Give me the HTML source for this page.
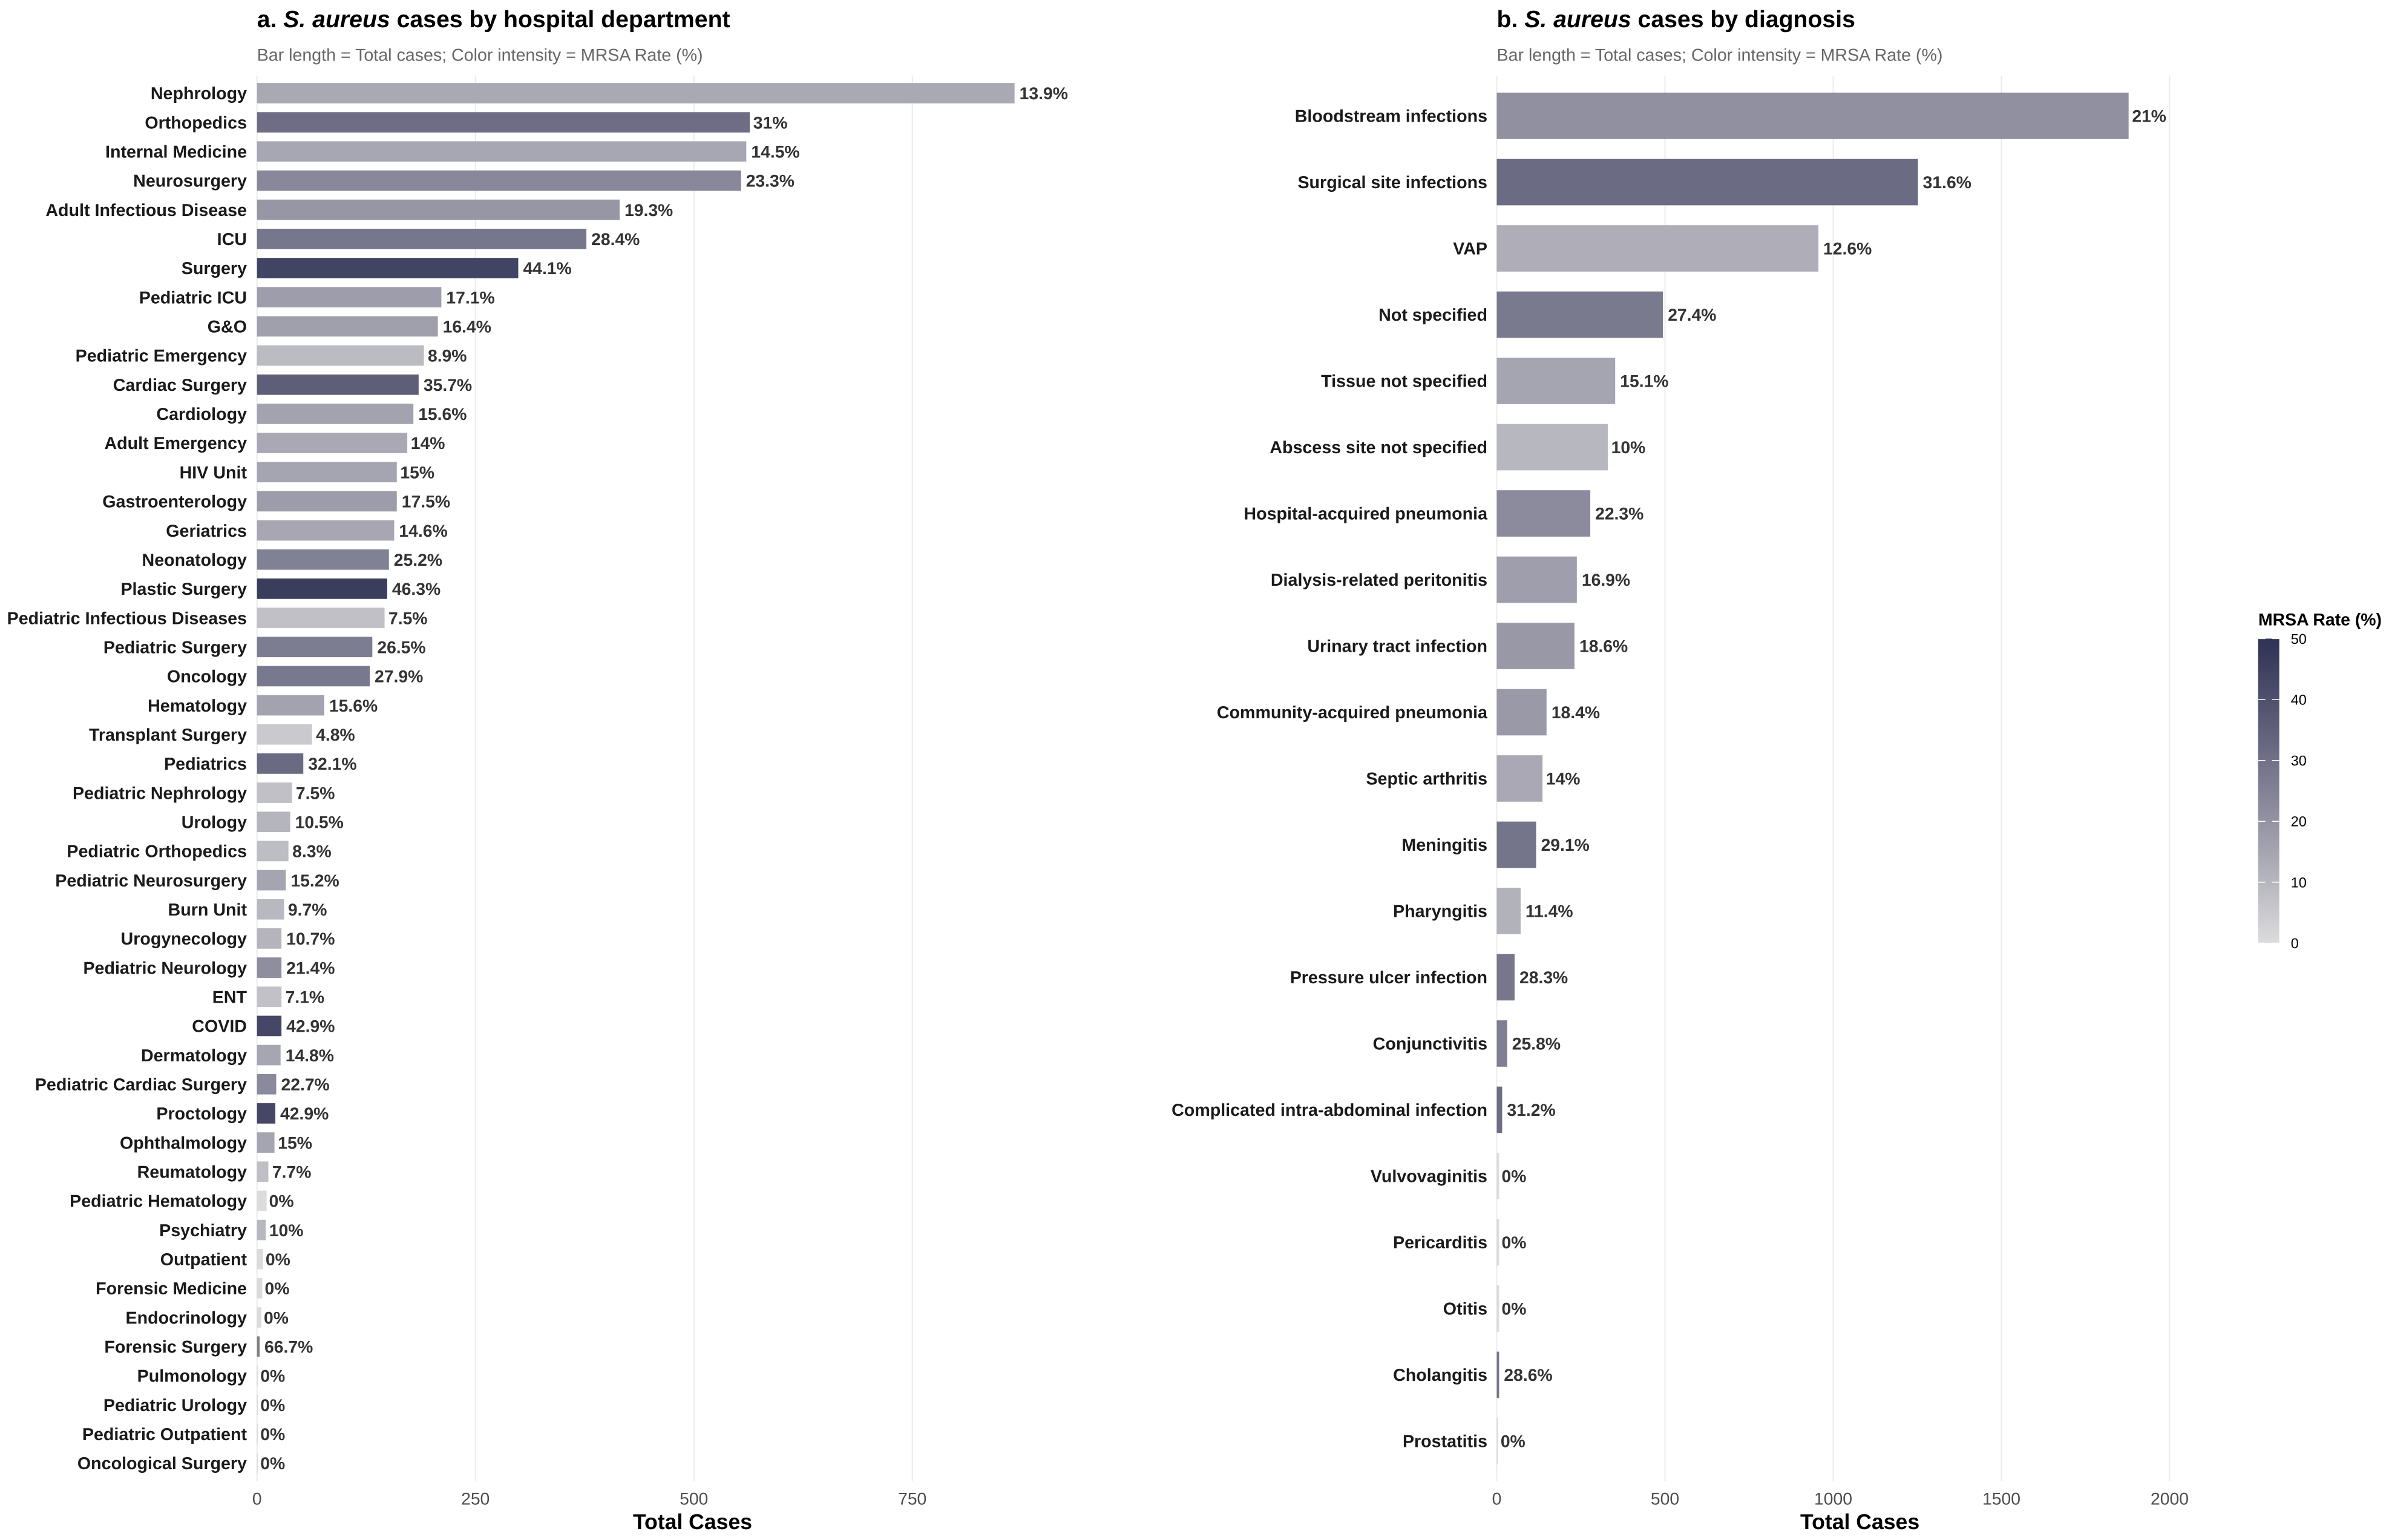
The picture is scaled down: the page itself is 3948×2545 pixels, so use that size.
<!DOCTYPE html>
<html lang="en">
<head>
<meta charset="utf-8">
<title>S. aureus cases by hospital department and diagnosis</title>
<style>
html,body{margin:0;padding:0;background:#fff;}
svg{display:block;}
text{font-family:"Liberation Sans",Arial,sans-serif;text-rendering:geometricPrecision;}
</style>
</head>
<body>
<svg id="chart" xmlns="http://www.w3.org/2000/svg" width="3948" height="2545" viewBox="0 0 3948 2545">
  <defs>
    <linearGradient id="legend-gradient" x1="0" y1="1" x2="0" y2="0"></linearGradient>
  </defs>
  <rect x="0" y="0" width="3948" height="2545" fill="#ffffff"/>
  <text x="424.7" y="45" font-size="39.2" font-weight="700" fill="#000">a. <tspan font-style="italic">S. aureus</tspan> cases by hospital department</text>
  <text x="424.7" y="100.6" font-size="28.6" fill="#666">Bar length = Total cases; Color intensity = MRSA Rate (%)</text>
  <text x="2473.5" y="45" font-size="39.2" font-weight="700" fill="#000">b. <tspan font-style="italic">S. aureus</tspan> cases by diagnosis</text>
  <text x="2473.5" y="100.6" font-size="28.6" fill="#666">Bar length = Total cases; Color intensity = MRSA Rate (%)</text>
  <g id="panel-a"></g>
  <g id="panel-b"></g>
  <text x="1144.5" y="2527" font-size="35.6" font-weight="700" text-anchor="middle" fill="#000">Total Cases</text>
  <text x="3073.6" y="2527" font-size="35.6" font-weight="700" text-anchor="middle" fill="#000">Total Cases</text>
  <g id="legend">
    <text x="3732" y="1033.6" font-size="28.4" font-weight="700" fill="#000">MRSA Rate (%)</text>
    <rect x="3731.7" y="1055.4" width="35" height="503.2" fill="url(#legend-gradient)"/>
  </g>
</svg>
<script>
var deptNames = ["Nephrology","Orthopedics","Internal Medicine","Neurosurgery","Adult Infectious Disease","ICU","Surgery","Pediatric ICU","G&O","Pediatric Emergency","Cardiac Surgery","Cardiology","Adult Emergency","HIV Unit","Gastroenterology","Geriatrics","Neonatology","Plastic Surgery","Pediatric Infectious Diseases","Pediatric Surgery","Oncology","Hematology","Transplant Surgery","Pediatrics","Pediatric Nephrology","Urology","Pediatric Orthopedics","Pediatric Neurosurgery","Burn Unit","Urogynecology","Pediatric Neurology","ENT","COVID","Dermatology","Pediatric Cardiac Surgery","Proctology","Ophthalmology","Reumatology","Pediatric Hematology","Psychiatry","Outpatient","Forensic Medicine","Endocrinology","Forensic Surgery","Pulmonology","Pediatric Urology","Pediatric Outpatient","Oncological Surgery"];
var deptCases = [867,564,560,554,415,377,299,211,207,191,185,179,172,160,160,157,151,149,146,132,129,77,63,53,40,38,36,33,31,28,28,28,28,27,22,21,20,13,11,10,7,6,5,3,1,1,1,1];
var deptRates = [13.9,31,14.5,23.3,19.3,28.4,44.1,17.1,16.4,8.9,35.7,15.6,14,15,17.5,14.6,25.2,46.3,7.5,26.5,27.9,15.6,4.8,32.1,7.5,10.5,8.3,15.2,9.7,10.7,21.4,7.1,42.9,14.8,22.7,42.9,15,7.7,0,10,0,0,0,66.7,0,0,0,0];
var dxNames = ["Bloodstream infections","Surgical site infections","VAP","Not specified","Tissue not specified","Abscess site not specified","Hospital-acquired pneumonia","Dialysis-related peritonitis","Urinary tract infection","Community-acquired pneumonia","Septic arthritis","Meningitis","Pharyngitis","Pressure ulcer infection","Conjunctivitis","Complicated intra-abdominal infection","Vulvovaginitis","Pericarditis","Otitis","Cholangitis","Prostatitis"];
var dxCases = [1878,1252,956,494,352,330,278,238,231,148,136,117,71,53,31,16,7,7,7,7,4];
var dxRates = [21,31.6,12.6,27.4,15.1,10,22.3,16.9,18.6,18.4,14,29.1,11.4,28.3,25.8,31.2,0,0,0,28.6,0];
var deptTicks = [0,250,500,750];
var dxTicks = [0,500,1000,1500,2000];
var legendTicks = [0,10,20,30,40,50];

var SVGNS = "http://www.w3.org/2000/svg";
var PANEL_TOP = 125, PANEL_BOTTOM = 2448;
var LOW = [220,220,220], HIGH = [47,50,84], OOB = "#7f7f7f", RATE_MAX = 50;

function toLab(rgb) {
  var l = rgb.map(function (v) { v /= 255; return v <= 0.04045 ? v / 12.92 : Math.pow((v + 0.055) / 1.055, 2.4); });
  var x = (0.4124 * l[0] + 0.3576 * l[1] + 0.1805 * l[2]) / 0.95047;
  var y = 0.2126 * l[0] + 0.7152 * l[1] + 0.0722 * l[2];
  var z = (0.0193 * l[0] + 0.1192 * l[1] + 0.9505 * l[2]) / 1.08883;
  var f = function (t) { return t > 0.008856 ? Math.cbrt(t) : 7.787 * t + 16 / 116; };
  return [116 * f(y) - 16, 500 * (f(x) - f(y)), 200 * (f(y) - f(z))];
}
function fromLab(lab) {
  var fy = (lab[0] + 16) / 116, fx = fy + lab[1] / 500, fz = fy - lab[2] / 200;
  var g = function (t) { return t > 0.206893 ? t * t * t : (t - 16 / 116) / 7.787; };
  var x = g(fx) * 0.95047, y = g(fy), z = g(fz) * 1.08883;
  var l = [3.2406 * x - 1.5372 * y - 0.4986 * z, -0.9689 * x + 1.8758 * y + 0.0415 * z, 0.0557 * x - 0.2040 * y + 1.0570 * z];
  return l.map(function (v) {
    v = v <= 0.0031308 ? 12.92 * v : 1.055 * Math.pow(Math.max(v, 0), 1 / 2.4) - 0.055;
    return Math.max(0, Math.min(255, Math.round(v * 255)));
  });
}
var LOW_LAB = toLab(LOW), HIGH_LAB = toLab(HIGH);
function fillFor(rate) {
  if (rate > RATE_MAX) return OOB;
  var t = rate / RATE_MAX;
  var lab = [0,1,2].map(function (k) { return LOW_LAB[k] + (HIGH_LAB[k] - LOW_LAB[k]) * t; });
  return "rgb(" + fromLab(lab).join(",") + ")";
}
function make(tag, attrs, parent, txt) {
  var el = document.createElementNS(SVGNS, tag);
  for (var k in attrs) el.setAttribute(k, attrs[k]);
  if (txt !== undefined) el.textContent = txt;
  parent.appendChild(el);
  return el;
}
function slug(s) { return s.toLowerCase().replace(/[^a-z0-9]+/g, "-"); }

var gradient = document.getElementById("legend-gradient");
for (var s = 0; s <= 20; s++) {
  make("stop", {offset: s / 20, "stop-color": fillFor(s / 20 * RATE_MAX)}, gradient);
}

function drawPanel(group, prefix, names, cases, rates, ticks, x0, pxPerCase, labelRight, firstY, step) {
  function xScale(v) { return x0 + v * pxPerCase; }
  function yScale(i) { return firstY + i * step; }
  var barH = step * 0.7;
  ticks.forEach(function (t) {
    var line = make("line", {x1: xScale(t), x2: xScale(t), y1: PANEL_TOP, y2: PANEL_BOTTOM, stroke: "#ebebeb", "stroke-width": 2}, group);
    
    
    var lab = make("text", {x: xScale(t), y: 2486.7, "font-size": 28.3, "text-anchor": "middle", fill: "#4d4d4d"}, group, String(t));
    
    
  });
  names.forEach(function (name, i) {
    var y = yScale(i);
    var bar = make("rect", {x: xScale(0), y: y - barH / 2, width: cases[i] * pxPerCase, height: barH, fill: fillFor(rates[i])}, group);
    
    
    var lab = make("text", {x: labelRight, y: y + 10.2, "font-size": 28.65, "font-weight": 700, "text-anchor": "end", fill: "#1a1a1a"}, group, name);
    
    
    var val = make("text", {x: xScale(cases[i]), y: y + 10.2, "font-size": 28.3, "font-weight": 700, fill: "#333333"}, group, rates[i] + "%");
    
    
    val.setAttribute("x", xScale(cases[i]) + val.getComputedTextLength() * 0.1);
  });
}

drawPanel(document.getElementById("panel-a"), "a", deptNames, deptCases, deptRates, deptTicks, 424.7, 1.444, 408, 154, 48.17);
drawPanel(document.getElementById("panel-b"), "b", dxNames, dxCases, dxRates, dxTicks, 2473.5, 0.556, 2458, 191.5, 109.5);

var legend = document.getElementById("legend");
function legendY(v) { return 1558.6 - v / RATE_MAX * 503.2; }
legendTicks.forEach(function (t) {
  var left = make("line", {x1: 3731.7, x2: 3743.7, y1: legendY(t), y2: legendY(t), stroke: "#ffffff", "stroke-width": 1.5}, legend);
  
  
  var right = make("line", {x1: 3754.7, x2: 3766.7, y1: legendY(t), y2: legendY(t), stroke: "#ffffff", "stroke-width": 1.5}, legend);
  
  
  var lab = make("text", {x: 3785.7, y: legendY(t) + 8.4, "font-size": 23.5, fill: "#000"}, legend, String(t));
  
  
});
</script>
</body>
</html>
